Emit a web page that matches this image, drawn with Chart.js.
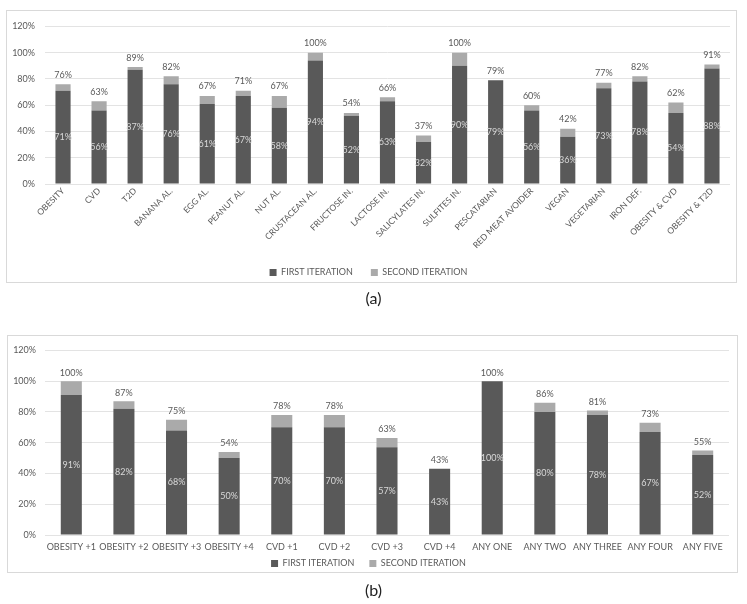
<!DOCTYPE html>
<html>
<head>
<meta charset="utf-8">
<script src="https://cdn.jsdelivr.net/npm/chart.js@4.4.1/dist/chart.umd.min.js"></script>
<style>
body { margin:0; background:#fff; width:747px; height:604px; position:relative; overflow:hidden; font-family: Lato, sans-serif; }
canvas { position:absolute; }
.frame { position:absolute; border:1px solid #d9d9d9; box-sizing:border-box; pointer-events:none; }
.cap { position:absolute; left:0; width:747px; text-align:center; font-size:16px; color:#222; }
</style>
</head>
<body>
<canvas id="chartA" style="left:7px;top:11px;width:729px;height:276px"></canvas>
<div class="frame" style="left:6px;top:10px;width:731px;height:273px"></div>
<div class="cap" style="top:288px">(a)</div>

<canvas id="chartB" style="left:8px;top:336px;width:729px;height:242px"></canvas>
<div class="frame" style="left:7px;top:335px;width:731px;height:238px"></div>
<div class="cap" style="top:580px">(b)</div>

<script>
// chart (a): single profiles
const labelsA = ['OBESITY', 'CVD', 'T2D', 'BANANA AL.', 'EGG AL.', 'PEANUT AL.', 'NUT AL.',
  'CRUSTACEAN AL.', 'FRUCTOSE IN.', 'LACTOSE IN.', 'SALICYLATES IN.', 'SULFITES IN.',
  'PESCATARIAN', 'RED MEAT AVOIDER', 'VEGAN', 'VEGETARIAN', 'IRON DEF.', 'OBESITY & CVD', 'OBESITY & T2D'];
const firstA  = [71, 56, 87, 76, 61, 67, 58, 94, 52, 63, 32, 90, 79, 56, 36, 73, 78, 54, 88];
const secondA = [5, 7, 2, 6, 6, 4, 9, 6, 2, 3, 5, 10, 0, 4, 6, 4, 4, 8, 3];

// chart (b): combined profiles
const labelsB = ['OBESITY +1', 'OBESITY +2', 'OBESITY +3', 'OBESITY +4', 'CVD +1', 'CVD +2',
  'CVD +3', 'CVD +4', 'ANY ONE', 'ANY TWO', 'ANY THREE', 'ANY FOUR', 'ANY FIVE'];
const firstB  = [91, 82, 68, 50, 70, 70, 57, 43, 100, 80, 78, 67, 52];
const secondB = [9, 5, 7, 4, 8, 8, 6, 0, 0, 6, 3, 6, 3];

const seriesNames = ['FIRST ITERATION', 'SECOND ITERATION'];
const yTicks = [0, 20, 40, 60, 80, 100, 120];

const TEXT = '#595959';
const DARK = '#595959';
const LIGHT = '#aaaaaa';
const FONT = 'Lato';

// inner labels for the first segment, totals above the stack
const valueLabels = {
  id: 'valueLabels',
  afterDatasetsDraw(chart, args, opts) {
    const ctx = chart.ctx;
    const m0 = chart.getDatasetMeta(0);
    const m1 = chart.getDatasetMeta(1);
    const d0 = chart.data.datasets[0].data;
    const d1 = chart.data.datasets[1].data;
    ctx.save();
    ctx.font = '9px ' + FONT;
    ctx.textAlign = 'center';
    m0.data.forEach((bar, i) => {
      ctx.fillStyle = '#d9d9d9';
      ctx.textBaseline = 'middle';
      ctx.fillText(d0[i] + '%', bar.x, (bar.y + bar.base) / 2);
      const top = m1.data[i];
      ctx.fillStyle = TEXT;
      ctx.textBaseline = 'bottom';
      ctx.fillText((d0[i] + d1[i]) + '%', top.x, top.y - opts.gap);
    });
    ctx.restore();
  }
};

function makeChart(id, labels, first, second, cfg) {
  const canvas = document.getElementById(id);
  canvas.width = cfg.w;
  canvas.height = cfg.h;
  return new Chart(canvas, {
    type: 'bar',
    data: {
      labels: labels,
      datasets: [
        { label: seriesNames[0], data: first, backgroundColor: DARK },
        { label: seriesNames[1], data: second, backgroundColor: LIGHT }
      ]
    },
    options: {
      responsive: false,
      animation: false,
      categoryPercentage: 1,
      barPercentage: cfg.bar,
      layout: { padding: { left: 0, right: cfg.right, top: cfg.top, bottom: 0 } },
      plugins: {
        legend: {
          position: 'bottom',
          labels: {
            boxWidth: 7, boxHeight: 7, padding: cfg.legendPad, color: TEXT,
            font: { family: FONT, size: 9 },
            generateLabels: c => {
              const items = Chart.defaults.plugins.legend.labels.generateLabels(c);
              // widen the gap between the two entries
              items[0].text += cfg.legendGap;
              return items;
            }
          }
        },
        tooltip: { enabled: false },
        valueLabels: { gap: cfg.gap }
      },
      scales: {
        x: {
          stacked: true,
          grid: { display: false, drawTicks: false },
          border: { display: false },
          ticks: {
            autoSkip: false,
            color: TEXT,
            font: { family: FONT, size: cfg.xFont },
            minRotation: cfg.rot, maxRotation: cfg.rot,
            padding: cfg.xPad
          },
          afterFit: s => { s.height = cfg.xh; }
        },
        y: {
          stacked: true,
          min: 0, max: 120,
          afterBuildTicks: s => { s.ticks = yTicks.map(v => ({ value: v })); },
          grid: { color: '#e3e3e3', drawTicks: false },
          border: { display: false },
          ticks: { color: TEXT, font: { family: FONT, size: 9 }, padding: cfg.yPad, callback: v => v + '%' },
          afterFit: s => { s.width = cfg.yw; }
        }
      }
    },
    plugins: [valueLabels]
  });
}

makeChart('chartA', labelsA, firstA, secondA,
  { w: 729, h: 276, bar: 0.42, right: 6, top: 8, yw: 38, yPad: 10, xh: 66, xPad: 2, xFont: 8.5, rot: 45,
    legendPad: 18, legendGap: '', gap: 5 });
makeChart('chartB', labelsB, firstB, secondB,
  { w: 729, h: 242, bar: 0.4, right: 8, top: 7, yw: 37, yPad: 9, xh: 18, xPad: 7, xFont: 9, rot: 0,
    legendPad: 6, legendGap: '\u2002\u2002', gap: 4 });
</script>
</body>
</html>
